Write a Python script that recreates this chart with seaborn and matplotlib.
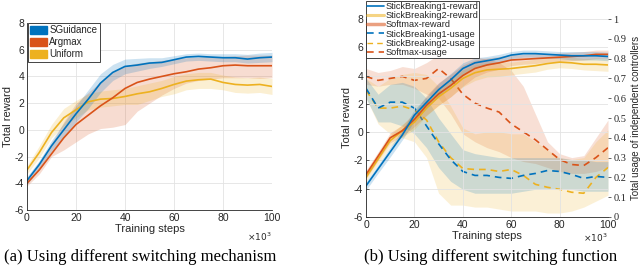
import numpy as np
import pandas as pd
import matplotlib
matplotlib.use("Agg")
import matplotlib.pyplot as plt
from matplotlib.patches import Patch
from matplotlib.lines import Line2D
import seaborn as sns

# training steps (x10^3)
steps = [0, 5, 10, 15, 20, 25, 30, 35, 40, 45, 50, 55, 60, 65, 70, 75, 80, 85, 90, 95, 100]

# (a) different switching mechanism
sg_mean = [-3.8, -2.6, -1.2, 0.0, 1.2, 2.3, 3.5, 4.3, 4.75, 4.85, 5.0, 5.05, 5.25, 5.45, 5.5, 5.45, 5.4, 5.4, 5.3, 5.4, 5.45]
sg_lo = [-4.1, -2.9, -1.6, -0.5, 0.6, 1.6, 2.8, 3.7, 4.2, 4.4, 4.6, 4.75, 4.95, 5.15, 5.2, 5.15, 5.1, 5.1, 5.0, 5.05, 5.1]
sg_hi = [-3.5, -2.3, -0.8, 0.5, 1.8, 3.0, 4.2, 4.9, 5.3, 5.35, 5.4, 5.4, 5.55, 5.7, 5.75, 5.7, 5.7, 5.7, 5.65, 5.75, 5.8]

am_mean = [-4.0, -3.0, -1.8, -0.6, 0.4, 1.1, 1.8, 2.4, 3.1, 3.55, 3.8, 4.0, 4.2, 4.35, 4.55, 4.65, 4.8, 4.85, 4.8, 4.8, 4.8]
am_lo = [-4.2, -3.3, -2.0, -1.5, -0.9, -0.3, 0.1, 0.2, 0.4, 1.4, 2.0, 2.6, 3.1, 3.5, 3.7, 3.8, 3.9, 3.9, 3.9, 3.85, 3.9]
am_hi = [-3.6, -2.4, -1.0, 0.6, 2.0, 2.8, 3.6, 4.3, 4.8, 5.0, 5.1, 5.2, 5.3, 5.4, 5.45, 5.5, 5.5, 5.55, 5.6, 5.6, 5.6]

un_mean = [-3.0, -1.7, -0.2, 0.9, 1.5, 2.1, 2.3, 2.35, 2.5, 2.7, 2.85, 3.1, 3.4, 3.65, 3.75, 3.8, 3.55, 3.4, 3.35, 3.4, 3.25]
un_lo = [-3.3, -2.1, -0.6, 0.3, 0.9, 1.5, 1.7, 1.8, 1.9, 1.9, 2.2, 2.5, 2.7, 3.0, 3.1, 3.1, 3.0, 2.8, 2.75, 2.8, 2.65]
un_hi = [-2.7, -1.2, 0.4, 1.6, 2.2, 2.7, 2.9, 3.0, 3.1, 3.3, 3.5, 3.7, 4.0, 4.2, 4.3, 4.3, 4.1, 3.95, 3.9, 3.95, 3.85]

# (b) different switching function: reward (left axis)
sb1_r = [-3.8, -2.6, -1.4, -0.2, 1.2, 2.1, 3.0, 3.7, 4.5, 4.9, 5.05, 5.2, 5.45, 5.55, 5.55, 5.5, 5.45, 5.4, 5.4, 5.4, 5.35]
sb2_r = [-3.2, -1.9, -0.6, 0.1, 0.7, 1.7, 2.5, 3.1, 3.8, 4.2, 4.4, 4.45, 4.5, 4.6, 4.7, 4.85, 4.95, 4.9, 4.8, 4.8, 4.75]
sm_r = [-3.0, -1.7, -0.4, 0.1, 0.9, 1.9, 2.7, 3.3, 4.0, 4.5, 4.75, 4.9, 5.1, 5.15, 5.2, 5.25, 5.3, 5.35, 5.4, 5.5, 5.5]
sb1_r_sd = [0.3, 0.3, 0.35, 0.35, 0.4, 0.4, 0.45, 0.45, 0.4, 0.35, 0.3, 0.3, 0.25, 0.25, 0.25, 0.25, 0.25, 0.3, 0.3, 0.3, 0.3]
sb2_r_sd = [0.3, 0.35, 0.4, 0.45, 0.5, 0.55, 0.6, 0.6, 0.6, 0.55, 0.5, 0.5, 0.45, 0.45, 0.45, 0.4, 0.4, 0.4, 0.4, 0.45, 0.45]
sm_r_sd = [0.3, 0.3, 0.35, 0.4, 0.5, 0.7, 0.8, 0.8, 0.75, 0.6, 0.5, 0.45, 0.4, 0.35, 0.35, 0.3, 0.3, 0.3, 0.3, 0.3, 0.3]

# (b) usage of independent controllers (right axis)
sb1_u = [0.65, 0.55, 0.58, 0.58, 0.55, 0.46, 0.37, 0.29, 0.23, 0.21, 0.21, 0.2, 0.195, 0.21, 0.22, 0.235, 0.23, 0.215, 0.195, 0.205, 0.2]
sb1_u_lo = [0.6, 0.48, 0.48, 0.46, 0.42, 0.35, 0.25, 0.18, 0.14, 0.12, 0.12, 0.12, 0.12, 0.13, 0.14, 0.14, 0.14, 0.14, 0.13, 0.13, 0.13]
sb1_u_hi = [0.7, 0.62, 0.67, 0.68, 0.66, 0.6, 0.5, 0.42, 0.34, 0.32, 0.31, 0.3, 0.3, 0.3, 0.3, 0.3, 0.3, 0.29, 0.29, 0.28, 0.28]

sb2_u = [0.64, 0.55, 0.55, 0.56, 0.54, 0.49, 0.38, 0.3, 0.245, 0.24, 0.24, 0.23, 0.24, 0.21, 0.165, 0.15, 0.14, 0.125, 0.12, 0.2, 0.25]
sb2_u_lo = [0.6, 0.47, 0.42, 0.4, 0.38, 0.3, 0.12, 0.06, 0.06, 0.05, 0.05, 0.04, 0.03, 0.03, 0.03, 0.02, 0.02, 0.03, 0.05, 0.08, 0.11]
sb2_u_hi = [0.7, 0.66, 0.7, 0.72, 0.73, 0.72, 0.66, 0.56, 0.45, 0.42, 0.43, 0.43, 0.42, 0.42, 0.38, 0.34, 0.3, 0.29, 0.3, 0.38, 0.44]

sm_u = [0.71, 0.69, 0.7, 0.71, 0.69, 0.7, 0.75, 0.7, 0.62, 0.575, 0.55, 0.53, 0.47, 0.43, 0.39, 0.34, 0.29, 0.265, 0.26, 0.3, 0.35]
sm_u_lo = [0.67, 0.66, 0.67, 0.67, 0.65, 0.62, 0.6, 0.52, 0.42, 0.38, 0.35, 0.33, 0.3, 0.28, 0.27, 0.25, 0.23, 0.22, 0.22, 0.23, 0.25]
sm_u_hi = [0.75, 0.73, 0.74, 0.76, 0.75, 0.78, 0.82, 0.83, 0.82, 0.81, 0.8, 0.78, 0.74, 0.66, 0.52, 0.38, 0.32, 0.3, 0.31, 0.4, 0.49]

BLUE = (0.0, 0.447, 0.741)
ORANGE = (0.85, 0.325, 0.098)
YELLOW = (0.929, 0.694, 0.125)
TXT = "#262626"

sns.set_style("white")
plt.rcParams["font.family"] = ["Liberation Sans", "DejaVu Sans"]
plt.rcParams["axes.unicode_minus"] = False

fig = plt.figure(figsize=(6.4, 2.66), dpi=100)
ax1 = fig.add_axes([27 / 640, 1 - 210 / 266, 245 / 640, 187 / 266])
ax = fig.add_axes([366 / 640, 1 - 217 / 266, 242 / 640, 198 / 266])
ax2 = ax.twinx()


def style_axes(a, sx_y):
    a.set_xlim(0, 100)
    a.set_ylim(-6, 8)
    a.set_xticks(range(0, 101, 20))
    a.set_yticks(range(-6, 9, 2))
    a.grid(True, color="#e3e3e3", lw=0.6)
    for s in ["top", "right"]:
        a.spines[s].set_visible(False)
    for s in ["left", "bottom"]:
        a.spines[s].set_color(TXT)
        a.spines[s].set_linewidth(0.6)
    a.tick_params(direction="in", length=2, width=0.5, labelsize=7.5, colors=TXT, pad=2)
    a.set_xlabel("Training steps", fontsize=8, color=TXT, labelpad=1)
    a.set_ylabel("Total reward", fontsize=8, color=TXT, labelpad=1)
    a.text(1.0, sx_y, r"$\times10^3$", transform=a.transAxes, ha="right", va="center",
           fontsize=6.5, color=TXT)


# ---- panel (a)
x = np.array(steps)
for m, lo, hi, c in [(am_mean, am_lo, am_hi, ORANGE), (un_mean, un_lo, un_hi, YELLOW),
                     (sg_mean, sg_lo, sg_hi, BLUE)]:
    ax1.fill_between(x, lo, hi, color=c, alpha=0.2, lw=0)
for m, c in [(un_mean, YELLOW), (am_mean, ORANGE), (sg_mean, BLUE)]:
    sns.lineplot(x=steps, y=m, ax=ax1, color=c, lw=1.2)
style_axes(ax1, -0.145)
handles = [Patch(facecolor=BLUE, edgecolor=BLUE), Patch(facecolor=ORANGE, edgecolor=ORANGE),
           Patch(facecolor=YELLOW, edgecolor=YELLOW)]
leg1 = ax1.legend(handles, ["SGuidance", "Argmax", "Uniform"], loc="upper left",
                  bbox_to_anchor=(28 / 640, 1 - 23 / 266), bbox_transform=fig.transFigure,
                  fontsize=7, handlelength=1.7, handleheight=0.8, handletextpad=0.25,
                  labelspacing=0.2, borderpad=0.25, borderaxespad=0, fancybox=False,
                  framealpha=1, edgecolor=TXT)
leg1.get_frame().set_linewidth(0.6)

# ---- panel (b)
ax.set_zorder(ax2.get_zorder() + 1)
ax.patch.set_visible(False)
ax2.set_ylim(0, 1)
ax2.set_yticks(np.round(np.arange(0, 1.01, 0.1), 1))
ax2.set_yticklabels(["0"] + [f"{v:.1f}" for v in np.arange(0.1, 0.95, 0.1)] + ["1"],
                    family="Liberation Serif")
for s in ["top", "right", "left", "bottom"]:
    ax2.spines[s].set_visible(False)
ax2.tick_params(axis="y", direction="out", length=2, width=0.5, labelsize=7.5, colors=TXT, pad=2)
ax2.set_ylabel("Total usage of independent controllers", fontsize=7, color=TXT, labelpad=3)

for lo, hi, c in [(sm_u_lo, sm_u_hi, ORANGE), (sb2_u_lo, sb2_u_hi, YELLOW), (sb1_u_lo, sb1_u_hi, BLUE)]:
    ax2.fill_between(x, lo, hi, color=c, alpha=0.18, lw=0)
for u, c in [(sm_u, ORANGE), (sb2_u, YELLOW), (sb1_u, BLUE)]:
    sns.lineplot(x=steps, y=u, ax=ax2, color=c, lw=1.2, linestyle=(0, (4, 3)))

for r, sd, c in [(sm_r, sm_r_sd, ORANGE), (sb2_r, sb2_r_sd, YELLOW), (sb1_r, sb1_r_sd, BLUE)]:
    ax.fill_between(x, np.array(r) - np.array(sd), np.array(r) + np.array(sd), color=c, alpha=0.2, lw=0)
for r, c in [(sb2_r, YELLOW), (sm_r, ORANGE), (sb1_r, BLUE)]:
    sns.lineplot(x=steps, y=r, ax=ax, color=c, lw=1.2)
style_axes(ax, -0.106)
ax2.grid(False)

handles = [Line2D([], [], color=BLUE, lw=1.2),
           Line2D([], [], color=YELLOW, lw=2.2, alpha=0.55),
           Line2D([], [], color=ORANGE, lw=2.5, alpha=0.55),
           Line2D([], [], color=BLUE, lw=1.2, linestyle=(0, (4, 3))),
           Line2D([], [], color=YELLOW, lw=1.0, linestyle=(0, (4, 3))),
           Line2D([], [], color=ORANGE, lw=1.2, linestyle=(0, (4, 3)))]
labels = ["StickBreaking1-reward", "StickBreaking2-reward", "Softmax-reward",
          "StickBreaking1-usage", "StickBreaking2-usage", "Softmax-usage"]
leg2 = ax.legend(handles, labels, loc="lower left", bbox_to_anchor=(366 / 640, 1 - 58 / 266),
                 bbox_transform=fig.transFigure, fontsize=6.6, handlelength=1.8,
                 handletextpad=0.2, labelspacing=0.02, borderpad=0.12, borderaxespad=0,
                 fancybox=False, framealpha=1, edgecolor=TXT)
leg2.get_frame().set_linewidth(0.6)
leg2.set_zorder(10)

# captions
fig.text(140 / 640, 1 - 257 / 266, "(a) Using different switching mechanism",
         family="Liberation Serif", fontsize=12, ha="center", va="center", color="black")
fig.text(491 / 640, 1 - 257 / 266, "(b) Using different switching function",
         family="Liberation Serif", fontsize=12, ha="center", va="center", color="black")

fig.savefig("out.png", dpi=100)
